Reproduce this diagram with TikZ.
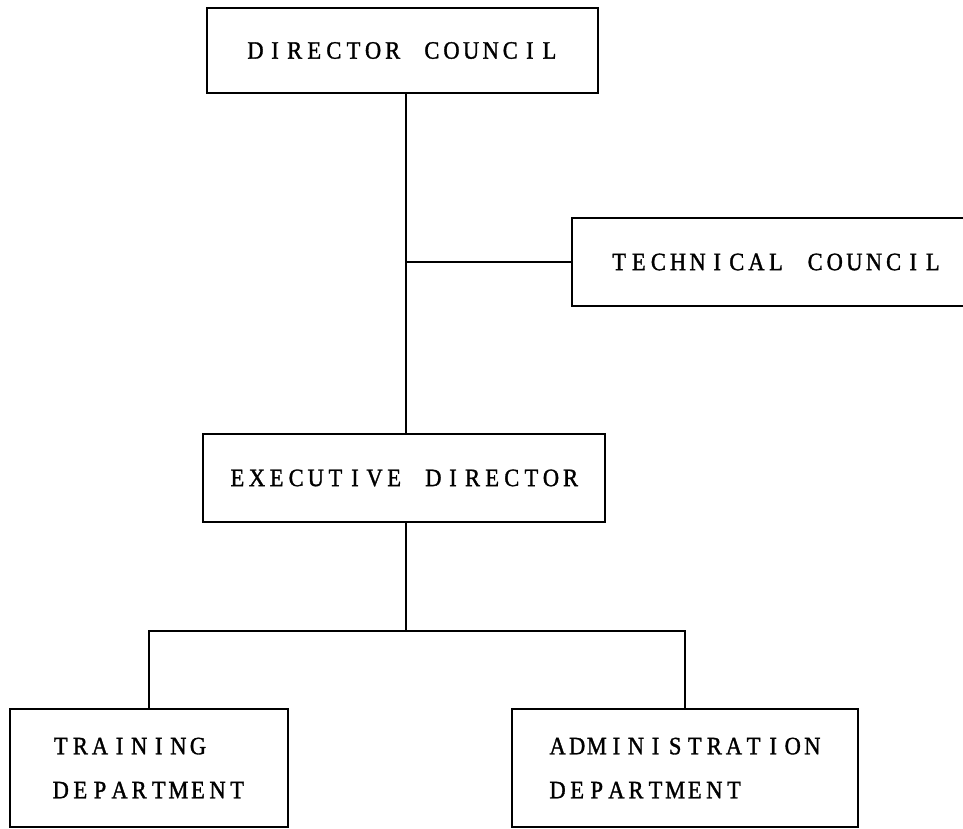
\documentclass[tikz,border=0pt]{standalone}
\usepackage{fontspec}
\setmainfont{Liberation Serif}[FakeStretch=0.9, FakeBold=1.3]
% Typewriter-style setting: every character sits in a box of fixed pitch
\newlength\twpitch
\setlength\twpitch{19.6pt}
\makeatletter
\def\tw@loop#1{\ifx#1\relax\else\makebox[\twpitch]{#1}\expandafter\tw@loop\fi}
\newcommand\tw[1]{\tw@loop#1\relax}
\makeatother
\begin{document}
\begin{tikzpicture}[x=1pt,y=-1pt,
  box/.style={draw, line width=1.5pt, rectangle, inner sep=0pt,
    font=\fontsize{25}{44}\selectfont, align=left},
  link/.style={line width=1.5pt}]
\useasboundingbox (0,0) rectangle (963,829);
\clip (0,0) rectangle (963,829);

% Boxes of the organisation chart
\node[box, minimum width=391pt, minimum height=85pt] (dc) at (402.5,50.5) {\tw{DIRECTOR~COUNCIL}};
\node[box, minimum width=408pt, minimum height=88pt] (tc) at (776,262) {\tw{TECHNICAL~COUNCIL}};
\node[box, minimum width=402pt, minimum height=88pt] (ed) at (404,478) {\tw{EXECUTIVE~DIRECTOR}};
\node[box, minimum width=278pt, minimum height=118pt] (td) at (149,768) {\tw{TRAINING}\\\tw{DEPARTMENT}};
\node[box, minimum width=346pt, minimum height=118pt] (ad) at (685,768) {\tw{ADMINISTRATION}\\\tw{DEPARTMENT}};

% Junctions on the main trunk
\coordinate (jn) at (406,262);
\coordinate (bus) at (406,631);

% Connectors
\draw[link] (dc.south -| jn) -- (ed.north -| jn);
\draw[link] (jn) -- (tc.west);
\draw[link] (ed.south -| bus) -- (bus);
\draw[link] (td.north) |- (bus) -| (ad.north);
\end{tikzpicture}
\end{document}
